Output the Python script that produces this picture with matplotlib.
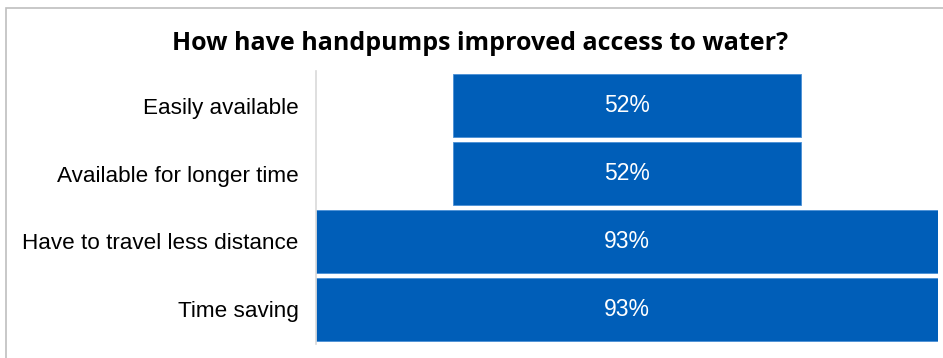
import matplotlib
matplotlib.use("Agg")
import matplotlib.pyplot as plt
from matplotlib.patches import Rectangle

categories = ["Easily available", "Available for longer time",
              "Have to travel less distance", "Time saving"]
values = [52, 52, 93, 93]
value_labels = ["52%", "52%", "93%", "93%"]
title = "How have handpumps improved access to water?"

W, H = 943, 358
fig = plt.figure(figsize=(W / 100, H / 100), dpi=100)
fig.patch.set_facecolor("white")

# outer frame
fig.patches.append(Rectangle((6 / W, -0.1), 2, (1 - 8 / H) + 0.1,
                             transform=fig.transFigure, fill=False,
                             edgecolor="#BFBFBF", linewidth=1.2))

ax_l, ax_r = 316 / W, 938 / W
ax_t, ax_b = 1 - 72 / H, 1 - 343 / H
ax = fig.add_axes([ax_l, ax_b, ax_r - ax_l, ax_t - ax_b])

vmax = max(values)
ypos = list(range(len(categories)))
ax.barh(ypos, values, left=[-v / 2 for v in values], height=0.93,
        color="#005EB8", edgecolor="#4A8FD6", linewidth=0.6)
ax.set_xlim(-vmax / 2, vmax / 2)
ax.set_ylim(len(categories) - 0.5, -0.5)

for y, lab in zip(ypos, value_labels):
    ax.text(0, y, lab, ha="center", va="center", color="white",
            fontsize=16.5, family="Liberation Sans")

ax.set_yticks(ypos)
ax.set_yticklabels(categories, fontsize=16.2, family="Liberation Sans")
ax.tick_params(axis="y", length=0, pad=12.5)
ax.set_xticks([])
for s in ["top", "right", "bottom"]:
    ax.spines[s].set_visible(False)
ax.spines["left"].set_color("#D9D9D9")
ax.spines["left"].set_linewidth(1.2)
ax.spines["left"].set_bounds(len(categories) - 0.5 + 0.02, -0.5 - 0.02)

fig.text(480 / W, 1 - 43 / H, title, ha="center", va="center",
         fontsize=18, fontweight="bold", family="Open Sans")

fig.savefig("out.png", dpi=100)
